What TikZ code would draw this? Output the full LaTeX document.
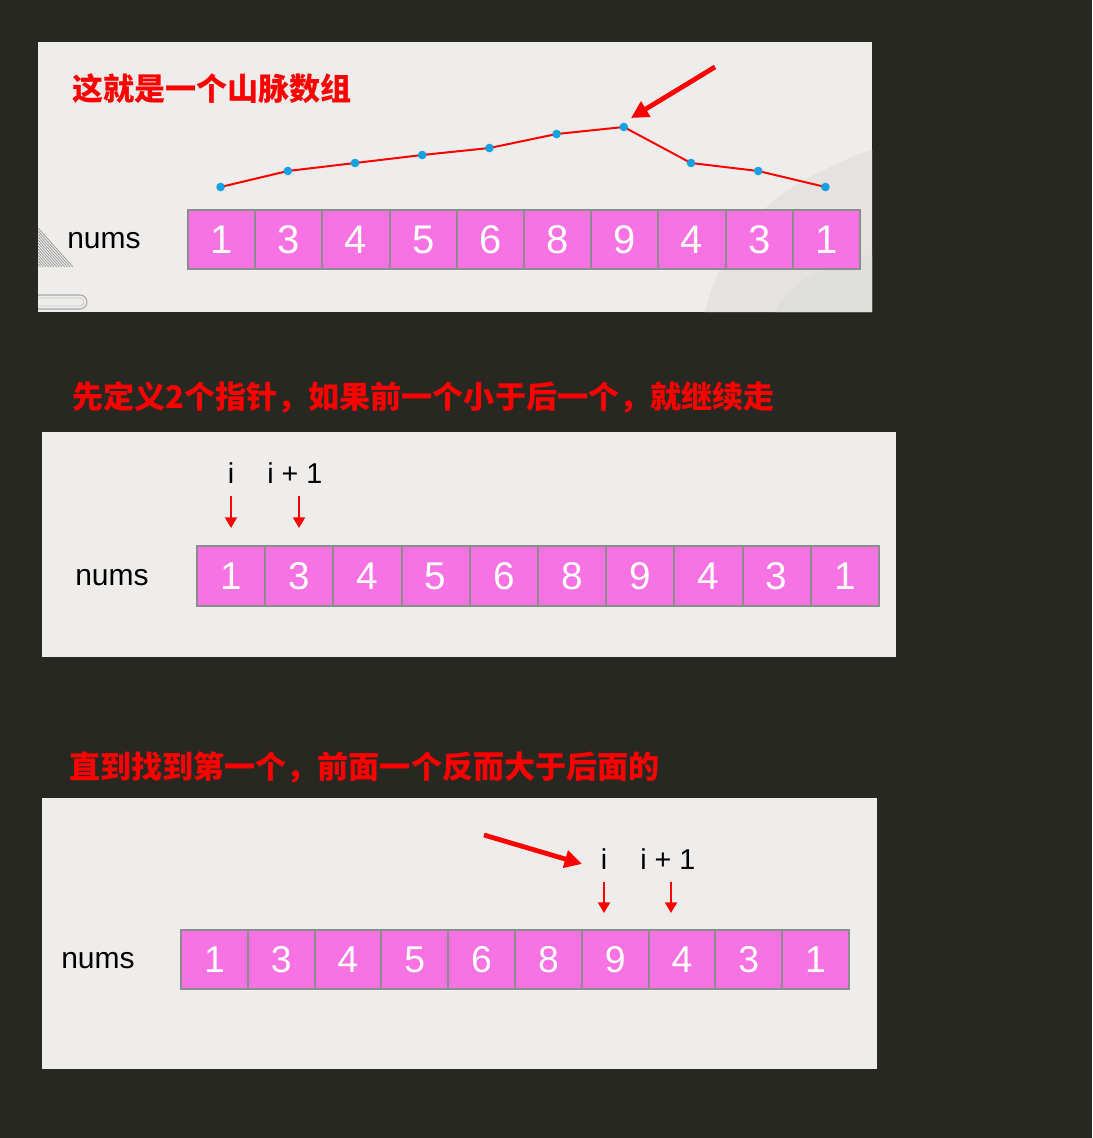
\documentclass[tikz,border=0pt]{standalone}
\usepackage{fontspec}
\setmainfont{Liberation Sans}
\newfontfamily\cjk{Noto Sans CJK SC}
\usetikzlibrary{arrows.meta}
\definecolor{bgdark}{RGB}{40,40,35}
\definecolor{panelbg}{RGB}{238,237,235}
\definecolor{cellpink}{RGB}{247,114,226}
\definecolor{cellborder}{RGB}{140,140,140}
\definecolor{dotblue}{RGB}{20,160,225}
\definecolor{lightshade}{RGB}{229,226,223}
\definecolor{lightshadeb}{RGB}{222,222,220}
\tikzset{
  cell/.style={draw=cellborder, line width=1.5pt, fill=cellpink, text=white, inner sep=0pt, anchor=north west},
  numslabel/.style={font=\fontsize{22.5}{22.5}\selectfont, text=black, inner sep=0pt, anchor=base west},
  ptrlabel/.style={font=\fontsize{21.5}{21.5}\selectfont, text=black, inner sep=0pt},
  title/.style={font=\cjk\bfseries\fontsize{23.3}{23.3}\selectfont, text=red, inner sep=0pt, anchor=west},
  dotnode/.style={circle, fill=dotblue, inner sep=0pt, minimum size=6.5pt},
  mline/.style={red, line width=1.5pt},
  ptrarrow/.style={red, line width=1.5pt, -{Triangle[width=9pt,length=8pt]}},
  bigarrow/.style={red, line width=3.6pt, -{Triangle[width=13pt,length=13pt]}}
}
\begin{document}
\begin{tikzpicture}[x=0.75pt,y=-0.75pt]
\fill[bgdark] (0,0) rectangle (1092,1138);
\useasboundingbox (0,0) rectangle (1092,1138);

% ---------- panel 1 ----------
\fill[panelbg] (38,42) rectangle (872,312);
\fill[lightshade] (705,312) .. controls (720,250) and (760,200) .. (820,172) .. controls (845,160) and (860,152) .. (872,150) -- (872,312) -- cycle;
\fill[lightshadeb] (775,312) .. controls (790,280) and (830,262) .. (872,255) -- (872,312) -- cycle;
\foreach \t in {0,3,...,36} { \draw[gray!85, line width=0.5pt] (38,{228+\t}) -- ({73-\t*35/39},267); }
\draw[gray!70, line width=0.8pt] (38,295) -- (80,295) arc[start angle=-90, end angle=90, radius=7] -- (38,309);
\draw[gray!45, line width=0.6pt] (38,298) -- (80,298) arc[start angle=-90, end angle=90, radius=4] -- (38,306);

\node[title] (t1) at (72,89) {这就是一个山脉数组};
\node[numslabel] (n1) at (67,248) {nums};
\foreach \v [count=\k] in {1,3,4,5,6,8,9,4,3,1} {
  \node[cell, minimum width=50.4pt, minimum height=44.25pt, font=\fontsize{30}{30}\selectfont] (a\k) at ({187+(\k-1)*67.2},209) {\v};
}
\foreach \y [count=\k] in {187,171,163,155,148,134,127,163,171,187} {
  \coordinate (m\k) at ({220.6+(\k-1)*67.2},\y);
}
\draw[mline] (m1) -- (m2) -- (m3) -- (m4) -- (m5) -- (m6) -- (m7) -- (m8) -- (m9) -- (m10);
\foreach \k in {1,...,10} { \node[dotnode] (d\k) at (m\k) {}; }
\coordinate (b1s) at (715,67);
\coordinate (b1e) at (631,118);
\draw[bigarrow] (b1s) -- (b1e);

% ---------- panel 2 ----------
\node[title] (t2) at (72,397) {先定义2个指针，如果前一个小于后一个，就继续走};
\fill[panelbg] (42,432) rectangle (896,657);
\node[numslabel] (n2) at (75,585) {nums};
\foreach \v [count=\k] in {1,3,4,5,6,8,9,4,3,1} {
  \node[cell, minimum width=51.15pt, minimum height=45pt, font=\fontsize{29}{29}\selectfont] (b\k) at ({196+(\k-1)*68.2},545) {\v};
}
\node[ptrlabel, anchor=base] (i2) at (231,483) {i};
\node[ptrlabel, anchor=base west] (ip2) at (267,483) {i + 1};
\coordinate (p2as) at (231,496);
\coordinate (p2ae) at (231,528);
\coordinate (p2bs) at (299,496);
\coordinate (p2be) at (299,528);
\draw[ptrarrow] (p2as) -- (p2ae);
\draw[ptrarrow] (p2bs) -- (p2be);

% ---------- panel 3 ----------
\node[title] (t3) at (69,767) {直到找到第一个，前面一个反而大于后面的};
\fill[panelbg] (42,798) rectangle (877,1069);
\node[numslabel] (n3) at (61,968) {nums};
\foreach \v [count=\k] in {1,3,4,5,6,8,9,4,3,1} {
  \node[cell, minimum width=50.1pt, minimum height=44.25pt, font=\fontsize{28}{28}\selectfont] (c\k) at ({180+(\k-1)*66.8},929) {\v};
}
\node[ptrlabel, anchor=base] (i3) at (604,869) {i};
\node[ptrlabel, anchor=base west] (ip3) at (640,869) {i + 1};
\coordinate (p3as) at (604,882);
\coordinate (p3ae) at (604,913);
\coordinate (p3bs) at (671,882);
\coordinate (p3be) at (671,913);
\draw[ptrarrow] (p3as) -- (p3ae);
\draw[ptrarrow] (p3bs) -- (p3be);
\coordinate (b3s) at (484,835);
\coordinate (b3e) at (582,864);
\draw[bigarrow] (b3s) -- (b3e);
\end{tikzpicture}
\end{document}
